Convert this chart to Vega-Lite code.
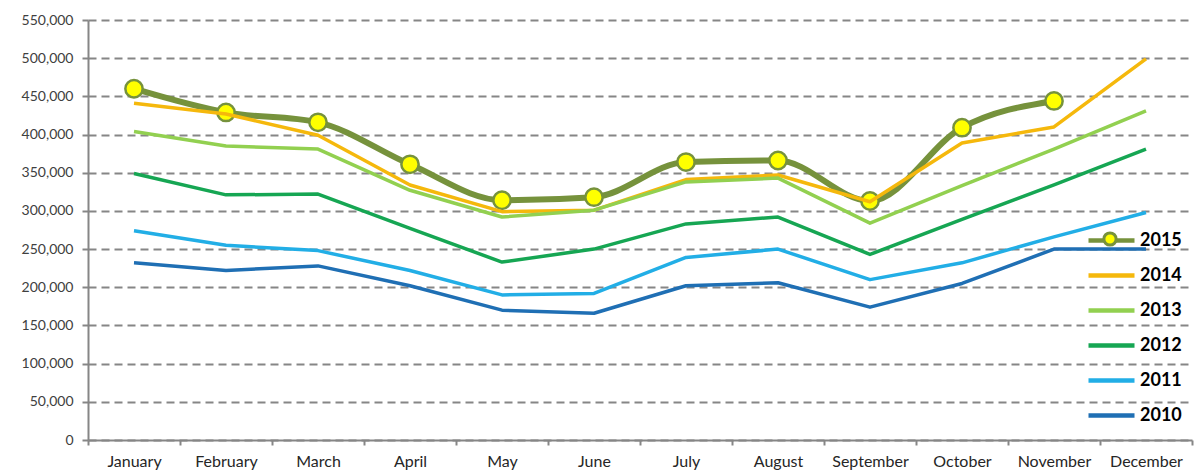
{
  "$schema": "https://vega.github.io/schema/vega-lite/v6.json",
  "width": 1104,
  "height": 420,
  "autosize": {"type": "none"},
  "padding": {"left": 88, "top": 20, "right": 11, "bottom": 32},
  "background": "white",
  "config": {"view": {"stroke": null}},
  "data": {
    "values": [
      {"month": "January", "year": "2015", "value": 460000},
      {"month": "February", "year": "2015", "value": 429000},
      {"month": "March", "year": "2015", "value": 416000},
      {"month": "April", "year": "2015", "value": 361000},
      {"month": "May", "year": "2015", "value": 314000},
      {"month": "June", "year": "2015", "value": 318000},
      {"month": "July", "year": "2015", "value": 364000},
      {"month": "August", "year": "2015", "value": 366000},
      {"month": "September", "year": "2015", "value": 313000},
      {"month": "October", "year": "2015", "value": 409000},
      {"month": "November", "year": "2015", "value": 444000},

      {"month": "January", "year": "2014", "value": 441000},
      {"month": "February", "year": "2014", "value": 427000},
      {"month": "March", "year": "2014", "value": 399000},
      {"month": "April", "year": "2014", "value": 334000},
      {"month": "May", "year": "2014", "value": 299000},
      {"month": "June", "year": "2014", "value": 301000},
      {"month": "July", "year": "2014", "value": 341000},
      {"month": "August", "year": "2014", "value": 347000},
      {"month": "September", "year": "2014", "value": 312000},
      {"month": "October", "year": "2014", "value": 389000},
      {"month": "November", "year": "2014", "value": 410000},
      {"month": "December", "year": "2014", "value": 499000},

      {"month": "January", "year": "2013", "value": 404000},
      {"month": "February", "year": "2013", "value": 385000},
      {"month": "March", "year": "2013", "value": 381000},
      {"month": "April", "year": "2013", "value": 327000},
      {"month": "May", "year": "2013", "value": 292000},
      {"month": "June", "year": "2013", "value": 301000},
      {"month": "July", "year": "2013", "value": 338000},
      {"month": "August", "year": "2013", "value": 343000},
      {"month": "September", "year": "2013", "value": 284000},
      {"month": "October", "year": "2013", "value": 333000},
      {"month": "November", "year": "2013", "value": 381000},
      {"month": "December", "year": "2013", "value": 431000},

      {"month": "January", "year": "2012", "value": 349000},
      {"month": "February", "year": "2012", "value": 321000},
      {"month": "March", "year": "2012", "value": 322000},
      {"month": "April", "year": "2012", "value": 277000},
      {"month": "May", "year": "2012", "value": 233000},
      {"month": "June", "year": "2012", "value": 250000},
      {"month": "July", "year": "2012", "value": 283000},
      {"month": "August", "year": "2012", "value": 292000},
      {"month": "September", "year": "2012", "value": 243000},
      {"month": "October", "year": "2012", "value": 289000},
      {"month": "November", "year": "2012", "value": 334000},
      {"month": "December", "year": "2012", "value": 381000},

      {"month": "January", "year": "2011", "value": 274000},
      {"month": "February", "year": "2011", "value": 255000},
      {"month": "March", "year": "2011", "value": 248000},
      {"month": "April", "year": "2011", "value": 222000},
      {"month": "May", "year": "2011", "value": 190000},
      {"month": "June", "year": "2011", "value": 192000},
      {"month": "July", "year": "2011", "value": 239000},
      {"month": "August", "year": "2011", "value": 250000},
      {"month": "September", "year": "2011", "value": 210000},
      {"month": "October", "year": "2011", "value": 232000},
      {"month": "November", "year": "2011", "value": 266000},
      {"month": "December", "year": "2011", "value": 298000},

      {"month": "January", "year": "2010", "value": 232000},
      {"month": "February", "year": "2010", "value": 222000},
      {"month": "March", "year": "2010", "value": 228000},
      {"month": "April", "year": "2010", "value": 202000},
      {"month": "May", "year": "2010", "value": 170000},
      {"month": "June", "year": "2010", "value": 166000},
      {"month": "July", "year": "2010", "value": 202000},
      {"month": "August", "year": "2010", "value": 206000},
      {"month": "September", "year": "2010", "value": 174000},
      {"month": "October", "year": "2010", "value": 205000},
      {"month": "November", "year": "2010", "value": 250000},
      {"month": "December", "year": "2010", "value": 250000}
    ]
  },
  "encoding": {
    "x": {
      "field": "month",
      "type": "ordinal",
      "bandPosition": 0.5,
      "sort": ["January", "February", "March", "April", "May", "June", "July", "August", "September", "October", "November", "December"],
      "scale": {"type": "band", "domain": ["January", "February", "March", "April", "May", "June", "July", "August", "September", "October", "November", "December"], "paddingInner": 0, "paddingOuter": 0},
      "axis": {
        "title": null,
        "labelAngle": 0,
        "tickBand": "extent",
        "domainColor": "#868686",
        "domainWidth": 2,
        "tickColor": "#868686",
        "tickWidth": 2,
        "tickSize": 5,
        "labelFont": "Lato",
        "labelFontSize": 16,
        "labelColor": "#262626",
        "labelPadding": 8,
        "grid": false
      }
    },
    "y": {
      "field": "value",
      "type": "quantitative",
      "scale": {"domain": [0, 550000], "nice": false, "zero": true},
      "axis": {
        "title": null,
        "values": [0, 50000, 100000, 150000, 200000, 250000, 300000, 350000, 400000, 450000, 500000, 550000],
        "format": ",.0f",
        "domainColor": "#868686",
        "domainWidth": 2,
        "tickColor": "#868686",
        "tickWidth": 2,
        "tickSize": 6,
        "grid": true,
        "gridColor": "#868686",
        "gridWidth": 2,
        "gridDash": [8, 5],
        "labelFont": "Lato",
        "labelFontSize": 14,
        "labelColor": "#404040",
        "labelPadding": 9
      }
    }
  },
  "layer": [
    {
      "transform": [{"filter": "datum.year == '2015'"}],
      "mark": {"type": "line", "interpolate": "monotone", "strokeWidth": 6, "strokeCap": "round", "strokeJoin": "round"},
      "encoding": {
        "color": {
          "field": "year",
          "type": "nominal",
          "scale": {"domain": ["2015", "2014", "2013", "2012", "2011", "2010"], "range": ["#76923C", "#F5B80C", "#92D050", "#16A653", "#22AEE6", "#1F6FB4"]},
          "legend": {
            "title": null,
            "orient": "none",
            "legendX": 998,
            "legendY": 195,
            "symbolType": "stroke",
            "symbolSize": 2116,
            "symbolStrokeWidth": 4.5,
            "rowPadding": -11.6,
            "labelFont": "Lato",
            "labelFontSize": 18,
            "labelFontWeight": "bold",
            "labelColor": "#000000",
            "labelOffset": 3,
            "padding": 0
          }
        }
      }
    },
    {
      "transform": [{"filter": "datum.year == '2015'"}],
      "mark": {"type": "point", "filled": true, "size": 300, "stroke": "#76923C", "strokeWidth": 2.5, "opacity": 1},
      "encoding": {
        "fill": {
          "field": "year",
          "type": "nominal",
          "scale": {"domain": ["2015"], "range": ["#FFFF00"]},
          "legend": {
            "title": null,
            "orient": "none",
            "legendX": 1014,
            "legendY": 211,
            "symbolType": "circle",
            "symbolSize": 150,
            "symbolStrokeColor": "#76923C",
            "symbolStrokeWidth": 3,
            "labelExpr": "''",
            "padding": 0
          }
        }
      }
    },
    {
      "transform": [{"filter": "datum.year != '2015'"}],
      "mark": {"type": "line", "strokeWidth": 3.5, "strokeJoin": "round"},
      "encoding": {
        "color": {
          "field": "year",
          "type": "nominal",
          "scale": {"domain": ["2015", "2014", "2013", "2012", "2011", "2010"], "range": ["#76923C", "#F5B80C", "#92D050", "#16A653", "#22AEE6", "#1F6FB4"]},
          "legend": {
            "title": null,
            "orient": "none",
            "legendX": 998,
            "legendY": 195,
            "symbolType": "stroke",
            "symbolSize": 2116,
            "symbolStrokeWidth": 4.5,
            "rowPadding": -11.6,
            "labelFont": "Lato",
            "labelFontSize": 18,
            "labelFontWeight": "bold",
            "labelColor": "#000000",
            "labelOffset": 3,
            "padding": 0
          }
        }
      }
    }
  ]
}
